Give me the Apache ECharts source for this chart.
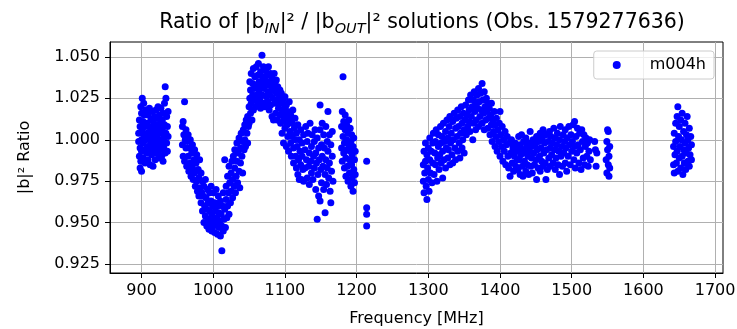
<!DOCTYPE html>
<html>
<head>
<meta charset="utf-8">
<script src="https://cdn.jsdelivr.net/npm/echarts@6/dist/echarts.min.js"></script>
<style>
  html, body { margin: 0; padding: 0; background: #fff; }
  #main { width: 737px; height: 329px; }
</style>
</head>
<body>
<div id="main"></div>
<script>
// tick labels
var xTicks = [900, 1000, 1100, 1200, 1300, 1400, 1500, 1600, 1700];
var yTicks = [0.925, 0.950, 0.975, 1.000, 1.025, 1.050];

// [frequency MHz, ratio], one array per frequency chunk
var seg900 = [
  [896,0.999],[896,1.004],[897,0.990],[897,1.012],[898,0.983],[898,0.995],[898,1.008],[899,1.020],[899,0.987],
  [900,1.000],[900,1.016],[900,0.981],[900,0.993],[901,1.025],[901,1.006],[902,0.998],[902,1.011],[902,0.989],
  [903,1.022],[903,1.003],[904,0.994],[904,1.015],[905,1.008],[905,0.986],[906,1.000],[906,1.018],[907,0.992],
  [907,1.010],[908,1.004],[908,0.996],[909,1.015],[909,0.988],[910,1.001],[910,1.008],[911,0.994],[911,1.019],
  [912,0.985],[912,1.005],[913,0.998],[913,1.012],[914,1.002],[914,0.991],[915,1.017],[915,1.007],[916,0.996],
  [916,0.984],[917,1.010],[917,1.000],[918,0.993],[918,1.014],[919,1.005],[919,0.988],[920,1.018],[920,0.999],
  [921,1.009],[921,0.992],[922,1.003],[922,1.013],[923,0.996],[923,1.020],[924,1.007],[924,0.989],[925,1.000],
  [925,1.015],[926,0.994],[926,1.010],[927,1.004],[927,1.019],[928,0.990],[928,0.998],[929,1.012],[929,1.006],
  [930,0.987],[930,1.016],[931,1.001],[931,0.995],[932,1.022],[932,1.009],[933,1.032],[933,0.992],[934,1.004],
  [934,1.025],[935,1.014],[935,0.998],[936,1.008],[936,0.993],[937,1.017],[937,1.002]
];
var seg1000 = [
  [957,1.008],[957,0.997],[958,1.011],[958,0.990],[959,1.003],[960,1.023],[960,0.987],[961,1.000],[962,0.995],
  [962,1.006],[963,0.984],[964,0.999],[965,0.990],[965,1.003],[966,0.981],[967,0.995],[968,0.986],[968,1.000],
  [969,0.978],[970,0.992],[971,0.983],[971,0.997],[972,0.976],[973,0.988],[974,0.980],[974,0.994],[975,0.972],
  [976,0.986],[977,0.975],[977,0.991],[978,0.969],[979,0.982],[980,0.966],[980,0.977],[981,0.988],[982,0.971],
  [983,0.962],[983,0.980],[984,0.968],[985,0.975],[985,0.957],[986,0.966],[987,0.950],[987,0.972],[988,0.960],
  [989,0.954],[989,0.976],[990,0.965],[991,0.948],[991,0.958],[992,0.970],[993,0.952],[993,0.962],[994,0.946],
  [995,0.968],[995,0.957],[996,0.950],[997,0.963],[997,0.972],[998,0.945],[998,0.955],[999,0.960],[1000,0.948],
  [1000,0.968],[1001,0.952],[1002,0.944],[1002,0.962],[1003,0.957],[1004,0.970],[1004,0.949],[1005,0.953],
  [1006,0.960],[1006,0.943],[1007,0.966],[1008,0.947],[1008,0.956],[1009,0.951],[1010,0.963],[1010,0.942],
  [1011,0.955],[1012,0.933],[1012,0.948],[1013,0.960],[1014,0.945],[1014,0.968],[1015,0.952],[1016,0.988],
  [1016,0.958],[1017,0.947],[1018,0.964],[1018,0.972],[1019,0.953],[1020,0.960],[1020,0.978],[1021,0.968],
  [1022,0.955],[1022,0.984],[1023,0.974],[1024,0.962],[1025,0.980],[1025,0.969],[1026,0.987],[1027,0.965],
  [1027,0.976],[1028,0.990],[1029,0.972],[1030,0.983],[1030,0.994],[1031,0.968],[1032,0.978],[1033,0.998],
  [1033,0.987],[1034,0.974],[1035,0.992],[1036,0.981],[1036,1.001],[1037,0.971],[1038,0.995],[1038,0.986],
  [1039,1.004],[1040,0.990],[1041,0.999],[1041,0.980],[1042,1.006],[1043,0.994],[1044,1.009],[1044,1.000],
  [1045,0.996],[1046,1.012],[1047,1.004],[1048,1.014],[1048,0.998],[1049,1.008],[1050,1.020],[1050,1.010]
];
var seg1070 = [
  [1051,1.025],[1051,1.035],[1052,1.016],[1052,1.030],[1053,1.040],[1053,1.022],[1054,1.012],[1055,1.034],
  [1055,1.027],[1056,1.043],[1056,1.018],[1057,1.031],[1058,1.038],[1058,1.024],[1059,1.020],[1060,1.044],
  [1060,1.033],[1061,1.027],[1062,1.039],[1062,1.021],[1063,1.046],[1064,1.030],[1064,1.035],[1065,1.024],
  [1066,1.041],[1066,1.019],[1067,1.033],[1068,1.051],[1068,1.027],[1069,1.038],[1070,1.022],[1070,1.044],
  [1071,1.031],[1072,1.036],[1072,1.020],[1073,1.042],[1074,1.026],[1074,1.033],[1075,1.039],[1076,1.023],
  [1076,1.029],[1077,1.044],[1078,1.035],[1078,1.018],[1079,1.027],[1080,1.040],[1080,1.021],[1081,1.032],
  [1082,1.014],[1082,1.037],[1083,1.025],[1084,1.012],[1084,1.030],[1085,1.040],[1086,1.022],[1086,1.034],
  [1087,1.016],[1088,1.028],[1088,1.036],[1089,1.012],[1090,1.024],[1090,1.032],[1091,1.019],[1092,1.027],
  [1093,1.015],[1093,1.030]
];
var seg1130 = [
  [1094,1.022],[1094,1.010],[1095,1.028],[1096,1.016],[1096,1.004],[1097,1.024],[1098,1.012],[1098,0.998],
  [1099,1.019],[1100,1.026],[1100,1.007],[1101,1.014],[1102,0.996],[1102,1.021],[1103,1.009],[1104,1.017],
  [1104,1.002],[1105,0.993],[1106,1.012],[1106,1.023],[1107,1.005],[1108,0.998],[1108,1.015],[1109,0.990],
  [1110,1.010],[1110,1.002],[1111,1.018],[1112,0.995],[1112,0.986],[1113,1.007],[1114,1.000],[1114,1.013],
  [1115,0.990],[1116,0.983],[1116,1.004],[1117,0.996],[1118,1.009],[1118,0.979],[1119,0.988],[1120,0.976],
  [1120,1.000],[1121,0.993],[1122,0.985],[1122,1.006],[1123,0.976],[1124,0.998],[1124,0.990],[1125,0.982],
  [1126,0.975],[1126,1.003],[1128,0.994],[1128,0.983],[1129,1.008],[1130,0.988],[1131,0.977],[1131,0.999],
  [1132,1.004],[1133,0.984],[1134,0.992],[1134,0.973],[1135,1.010],[1136,0.987],[1137,0.980],[1137,0.996],
  [1138,1.003],[1139,0.976],[1140,0.990],[1141,0.999],[1141,0.983],[1142,1.006],[1143,0.970],[1143,0.992],
  [1144,0.986],[1145,0.952],[1145,1.001],[1146,0.979],[1147,0.995],[1147,0.966],[1148,0.988],[1149,1.021],
  [1149,0.963],[1149,1.006],[1150,0.982],[1151,0.997],[1151,0.974],[1152,1.010],[1152,0.990],[1153,0.984],
  [1154,1.003],[1154,0.970],[1155,0.995],[1156,0.956],[1156,0.979],[1157,1.008],[1157,0.988],[1158,0.973],
  [1159,0.999],[1159,0.983],[1160,1.017],[1160,0.993],[1161,0.977],[1162,1.003],[1162,0.986],[1163,0.969],
  [1164,0.962],[1164,0.997],[1165,0.981],[1166,0.990],[1166,1.005],[1167,0.975]
];
var seg1190 = [
  [1179,1.008],[1179,0.995],[1180,1.017],[1180,0.987],[1181,1.038],[1181,1.002],[1182,0.992],[1182,1.011],
  [1183,0.983],[1183,0.998],[1184,1.006],[1184,1.015],[1185,0.989],[1185,0.978],[1186,1.000],[1186,1.009],
  [1187,0.994],[1187,0.984],[1188,1.004],[1188,0.975],[1189,0.997],[1189,1.012],[1190,0.988],[1190,0.980],
  [1191,1.007],[1191,0.993],[1192,0.972],[1192,0.999],[1193,0.985],[1193,1.003],[1194,0.977],[1194,0.991],
  [1195,0.969],[1195,0.996],[1196,0.982],[1196,1.001],[1197,0.974],[1197,0.988],[1198,0.993],[1198,0.979],
  [1214,0.987],[1214,0.959],[1214,0.955],[1214,0.948]
];
var seg1350 = [
  [1293,0.985],[1293,0.975],[1294,0.993],[1294,0.968],[1295,0.980],[1296,0.998],[1296,0.987],[1297,0.972],
  [1298,0.964],[1298,0.991],[1299,0.983],[1300,0.995],[1300,0.976],[1301,0.969],[1302,0.988],[1302,1.001],
  [1303,0.980],[1304,0.993],[1305,0.974],[1306,0.998],[1306,0.986],[1307,1.004],[1308,0.979],[1309,0.992],
  [1310,0.985],[1310,0.999],[1311,1.006],[1312,0.975],[1313,0.989],[1314,0.996],[1314,1.003],[1315,0.982],
  [1316,0.991],[1317,1.008],[1318,0.998],[1318,0.986],[1319,1.002],[1320,0.977],[1320,0.993],[1321,1.010],
  [1322,0.988],[1323,0.999],[1324,1.005],[1324,0.983],[1325,0.995],[1326,1.012],[1327,1.001],[1327,0.989],
  [1328,0.994],[1329,1.008],[1330,0.985],[1330,1.014],[1331,0.998],[1332,1.004],[1333,0.991],[1334,1.011],
  [1334,0.986],[1335,1.000],[1336,1.016],[1337,0.995],[1338,1.007],[1338,0.988],[1339,1.013],[1340,1.002],
  [1341,0.993],[1341,1.018],[1342,1.008],[1343,0.998],[1344,1.014],[1344,0.989],[1345,1.004],[1346,1.020],
  [1347,0.995],[1347,1.010],[1348,1.000],[1349,1.016],[1350,0.992],[1350,1.006],[1351,1.012],[1352,1.021],
  [1353,1.003],[1354,1.015],[1355,1.008],[1356,1.024],[1357,1.011],[1357,1.018],[1358,1.005],[1359,1.027],
  [1360,1.014],[1361,1.020],[1362,1.000],[1363,1.024],[1363,1.010],[1364,1.029],[1365,1.017],[1366,1.006],
  [1366,1.022],[1367,1.012],[1368,1.027],[1369,1.019],[1370,1.031],[1370,1.008],[1371,1.023],[1372,1.014],
  [1373,1.028],[1374,1.018],[1375,1.034],[1375,1.010],[1376,1.024],[1377,1.016],[1378,1.029],[1378,1.006],
  [1379,1.020],[1380,1.012],[1381,1.025],[1382,1.017],[1383,1.007],[1383,1.022],[1384,1.013],[1385,1.019],
  [1386,1.003],[1387,1.015],[1388,1.009],[1388,1.022],[1389,0.999],[1390,1.012],[1391,1.005],[1392,1.017],
  [1393,0.996],[1393,1.009],[1394,1.002],[1395,1.013],[1396,0.993],[1397,1.006],[1398,0.999],[1399,1.010],
  [1400,1.017],[1400,0.990],[1401,1.003],[1402,0.996],[1403,1.008],[1404,0.987],[1405,1.000],[1406,0.993],
  [1407,1.005],[1408,0.985],[1409,0.997],[1410,1.002],[1411,0.990],[1412,0.983],[1413,0.998],[1414,0.978],
  [1415,0.992],[1416,1.000],[1417,0.986],[1418,0.995],[1419,0.981],[1420,0.990],[1421,0.998],[1422,0.984],
  [1423,0.993],[1424,0.988]
];
var seg1475 = [
  [1425,0.995],[1425,0.982],[1426,1.002],[1427,0.988],[1428,0.979],[1428,0.997],[1429,0.991],[1430,1.003],
  [1431,0.984],[1432,0.994],[1432,0.978],[1433,0.999],[1434,0.987],[1435,0.992],[1436,1.001],[1436,0.981],
  [1437,0.996],[1438,0.985],[1439,0.990],[1440,0.998],[1440,0.979],[1441,0.993],[1442,1.005],[1443,0.984],
  [1444,0.996],[1444,0.989],[1445,0.980],[1446,1.000],[1447,0.992],[1448,0.985],[1449,0.997],[1450,0.988],
  [1451,0.976],[1451,1.002],[1452,0.994],[1453,0.983],[1454,0.999],[1455,0.990],[1456,0.981],[1456,1.004],
  [1457,0.995],[1458,0.987],[1459,1.001],[1460,1.006],[1460,0.984],[1461,0.992],[1462,0.998],[1463,0.986],
  [1464,0.976],[1464,1.003],[1465,0.994],[1466,0.982],[1467,0.999],[1468,0.989],[1469,1.005],[1470,0.995],
  [1470,0.984],[1471,1.002],[1472,0.991],[1473,0.998],[1474,0.986],[1475,1.007],[1476,0.994],[1477,0.982],
  [1477,1.001],[1478,0.989],[1479,0.997],[1480,1.004],[1481,0.985],[1482,0.993],[1483,0.979],[1483,1.000],
  [1484,1.008],[1485,0.990],[1486,0.996],[1487,0.984],[1488,1.003],[1489,0.992],[1490,0.999],[1491,1.006],
  [1491,0.986],[1492,0.995],[1493,0.981],[1494,1.001],[1495,0.990],[1496,1.008],[1497,0.997],[1498,0.985],
  [1499,1.003],[1500,0.993],[1501,0.999],[1502,1.009],[1503,0.988],[1504,1.011],[1504,0.996],[1505,0.983],
  [1506,1.002],[1507,0.992],[1508,1.007],[1509,0.997],[1510,0.986],[1511,1.004],[1512,0.994],[1513,0.982],
  [1514,1.006],[1515,0.999],[1516,0.989],[1517,1.003],[1518,0.985],[1519,0.996],[1520,1.001],[1521,0.990],
  [1522,0.998],[1523,0.984],[1524,0.993],[1525,1.000],[1526,0.988]
];
var seg1550 = [
  [1532,0.999],[1533,0.994],[1534,0.984],[1535,0.992],
  [1548,0.988],[1549,0.999],[1549,0.980],[1550,1.006],[1550,0.994],[1551,0.985],[1551,1.005],[1552,0.990],
  [1552,0.978],[1553,0.996],[1553,0.983]
];
var seg1650 = [
  [1642,0.996],[1642,0.985],[1643,1.004],[1643,0.980],[1644,0.991],[1645,1.010],[1645,0.999],[1646,0.986],
  [1647,1.014],[1647,0.993],[1648,1.020],[1648,0.981],[1649,1.002],[1650,0.989],[1650,1.008],[1651,0.996],
  [1652,0.983],[1652,1.012],[1653,1.000],[1654,0.990],[1654,1.016],[1655,0.979],[1656,1.005],[1656,0.994],
  [1657,0.986],[1658,1.010],[1658,0.998],[1659,0.982],[1660,1.003],[1660,0.992],[1661,1.014],[1662,0.987],
  [1662,1.000],[1663,0.995],[1664,1.007],[1664,0.984],[1665,0.991],[1666,1.002],[1667,0.997],[1667,0.988]
];

var points = [].concat(seg900, seg1000, seg1070, seg1130, seg1190, seg1350, seg1475, seg1550, seg1650);

var font = 'DejaVu Sans';
var myChart = echarts.init(document.getElementById('main'));
option = {
    animation: false,
    title: {
        text: '{n|Ratio of |b}{s|IN}{n||² / |b}{s|OUT}{n||² solutions (Obs. 1579277636)}',
        left: 417,
        top: 4,
        textAlign: 'center',
        textStyle: {
            fontWeight: 'normal',
            rich: {
                n: { fontFamily: font, fontSize: 20.5, fontWeight: 'normal', color: '#000', lineHeight: 28 },
                s: { fontFamily: font, fontSize: 14.5, fontWeight: 'normal', fontStyle: 'italic', color: '#000', lineHeight: 28, verticalAlign: 'bottom' }
            }
        }
    },
    legend: {
        right: 23,
        top: 51,
        data: ['m004h'],
        icon: 'circle',
        itemWidth: 8,
        itemHeight: 8,
        itemGap: 0,
        padding: [6, 8, 6, 19],
        borderColor: '#cccccc',
        borderWidth: 1,
        borderRadius: 3,
        backgroundColor: 'rgba(255,255,255,0.8)',
        textStyle: { fontFamily: font, fontSize: 16, color: '#000', padding: [0, 0, 0, 24] }
    },
    grid: {
        left: 110,
        right: 14,
        top: 42,
        bottom: 56,
        outerBoundsMode: 'none',
        show: true,
        borderColor: '#000',
        borderWidth: 1
    },
    xAxis: {
        type: 'value',
        min: 856,
        max: 1711,
        name: 'Frequency [MHz]',
        nameLocation: 'middle',
        nameGap: 38,
        nameTextStyle: { fontFamily: font, fontSize: 16, color: '#000' },
        axisLine: { show: true, onZero: false, lineStyle: { color: '#000' } },
        axisTick: { show: true, length: 5, lineStyle: { color: '#000' }, customValues: xTicks },
        axisLabel: {
            fontFamily: font, fontSize: 16, color: '#000', margin: 10, customValues: xTicks,
            formatter: function (v) { return String(v); }
        },
        splitLine: { show: true, lineStyle: { color: '#b0b0b0', width: 1 } }
    },
    yAxis: {
        type: 'value',
        min: 0.9196,
        max: 1.059,
        name: '|b|² Ratio',
        nameLocation: 'middle',
        nameRotate: 90,
        nameGap: 77,
        nameTextStyle: { fontFamily: font, fontSize: 16, color: '#000' },
        axisLine: { show: true, onZero: false, lineStyle: { color: '#000' } },
        axisTick: { show: true, length: 5, lineStyle: { color: '#000' }, customValues: yTicks },
        axisLabel: {
            fontFamily: font, fontSize: 16, color: '#000', margin: 10, customValues: yTicks,
            formatter: function (v) { return v.toFixed(3); }
        },
        splitLine: { show: true, lineStyle: { color: '#b0b0b0', width: 1 } }
    },
    series: [
        {
            name: 'm004h',
            type: 'scatter',
            symbol: 'circle',
            symbolSize: 7,
            itemStyle: { color: '#0000ff', opacity: 1 },
            data: points
        }
    ]
};
myChart.setOption(option);
</script>
</body>
</html>
